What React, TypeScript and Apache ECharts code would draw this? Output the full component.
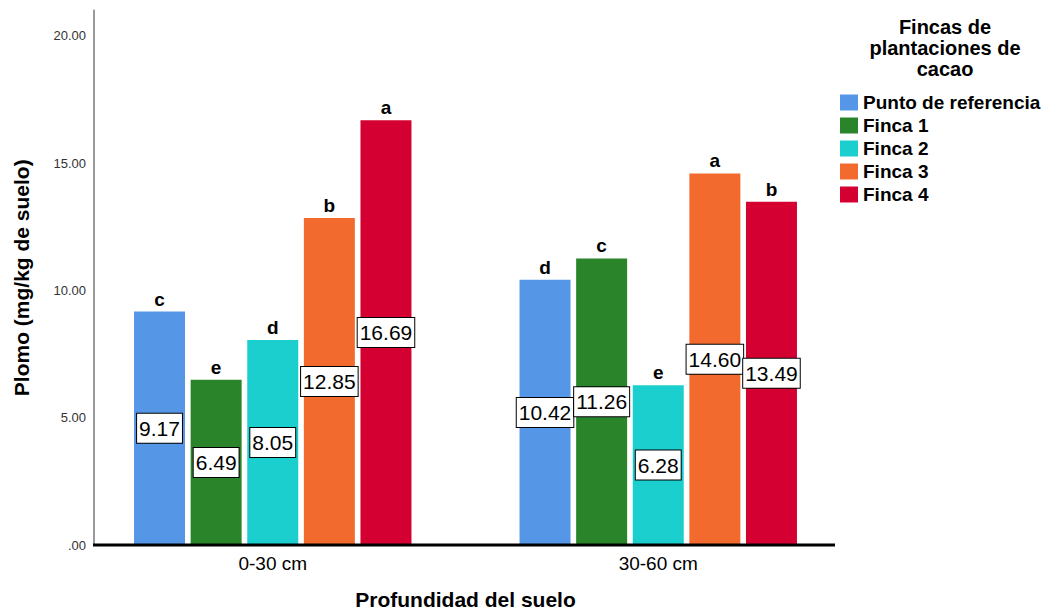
import React, { useEffect, useRef } from "react";
import * as echarts from "echarts";

const categories = ["0-30 cm", "30-60 cm"];
const seriesNames = ["Punto de referencia", "Finca 1", "Finca 2", "Finca 3", "Finca 4"];
const colors = ["#5596e6", "#2a852a", "#1ccfcf", "#f26a2e", "#d50032"];
const values = [
  [9.17, 10.42],
  [6.49, 11.26],
  [8.05, 6.28],
  [12.85, 14.6],
  [16.69, 13.49],
];
const letters = [
  ["c", "d"],
  ["e", "c"],
  ["d", "e"],
  ["b", "a"],
  ["a", "b"],
];
const yTicks = [0, 5, 10, 15, 20];

export default function App() {
  const ref = useRef<HTMLDivElement>(null);
  useEffect(() => {
    document.body.style.margin = "0";
    const chart = echarts.init(ref.current!, null, { renderer: "svg" });
    const font = "Liberation Sans, Arial, sans-serif";
    const series: any[] = [];
    seriesNames.forEach((name, i) => {
      series.push({
        name,
        type: "bar",
        stack: "s" + i,
        barWidth: 51,
        barGap: "11%",
        itemStyle: { color: colors[i] },
        data: values[i],
        label: {
          show: true,
          position: "inside",
          formatter: (p: any) => p.value.toFixed(2),
          color: "#000",
          fontFamily: font,
          fontSize: 21,
          backgroundColor: "#fff",
          borderColor: "#000",
          borderWidth: 1,
          padding: [5, 2, 3, 2],
        },
      });
      series.push({
        name: name + "_letter",
        type: "bar",
        stack: "s" + i,
        barWidth: 51,
        barGap: "11%",
        itemStyle: { color: "transparent" },
        data: values[i].map(() => 0),
        label: {
          show: true,
          position: "top",
          distance: 3,
          formatter: (p: any) => letters[i][p.dataIndex],
          color: "#000",
          fontFamily: font,
          fontSize: 19,
          fontWeight: "bold",
        },
        silent: true,
      });
    });
    chart.setOption({
      animation: false,
      textStyle: { fontFamily: font },
      grid: { left: 80, right: 205, top: 10.5, bottom: 70, containLabel: false, outerBoundsMode: "none" },
      legend: {
        data: seriesNames,
        orient: "vertical",
        left: 840,
        top: 93,
        padding: 0,
        icon: "rect",
        itemWidth: 18,
        itemHeight: 16,
        itemGap: 4,
        textStyle: { fontFamily: font, fontSize: 19, fontWeight: "bold", color: "#000" },
        selectedMode: false,
      },
      xAxis: {
        type: "category",
        data: categories,
        axisLine: { show: false },
        axisTick: { show: false },
        axisLabel: { color: "#000", fontSize: 19, margin: 9, fontFamily: font },
        name: "Profundidad del suelo",
        nameLocation: "middle",
        nameGap: 44,
        nameTextStyle: { color: "#000", fontSize: 21, fontWeight: "bold", fontFamily: font },
      },
      yAxis: {
        type: "value",
        min: 0,
        max: 21,
        interval: 5,
        offset: -14,
        splitLine: { show: false },
        axisLine: { show: true, lineStyle: { color: "#999", width: 2 } },
        axisTick: { show: false },
        axisLabel: {
          color: "#333",
          fontSize: 13,
          margin: 8,
          fontFamily: font,
          formatter: (v: number) => (yTicks.includes(v) ? (v === 0 ? ".00" : v.toFixed(2)) : ""),
        },
        name: "Plomo (mg/kg de suelo)",
        nameLocation: "middle",
        nameGap: 62,
        nameTextStyle: { color: "#000", fontSize: 21, fontWeight: "bold", fontFamily: font },
      },
      graphic: [
        {
          type: "line",
          shape: { x1: 93, y1: 545, x2: 835, y2: 545 },
          style: { stroke: "#000", lineWidth: 3 },
          z: 100,
        },
        {
          type: "text",
          x: 945,
          y: 16,
          style: {
            text: "Fincas de\nplantaciones de\ncacao",
            align: "center",
            fill: "#000",
            font: "bold 20px " + font,
            lineHeight: 21,
          },
        },
      ],
      series,
    });
    return () => chart.dispose();
  }, []);
  return <div ref={ref} style={{ width: 1056, height: 615 }} />;
}
